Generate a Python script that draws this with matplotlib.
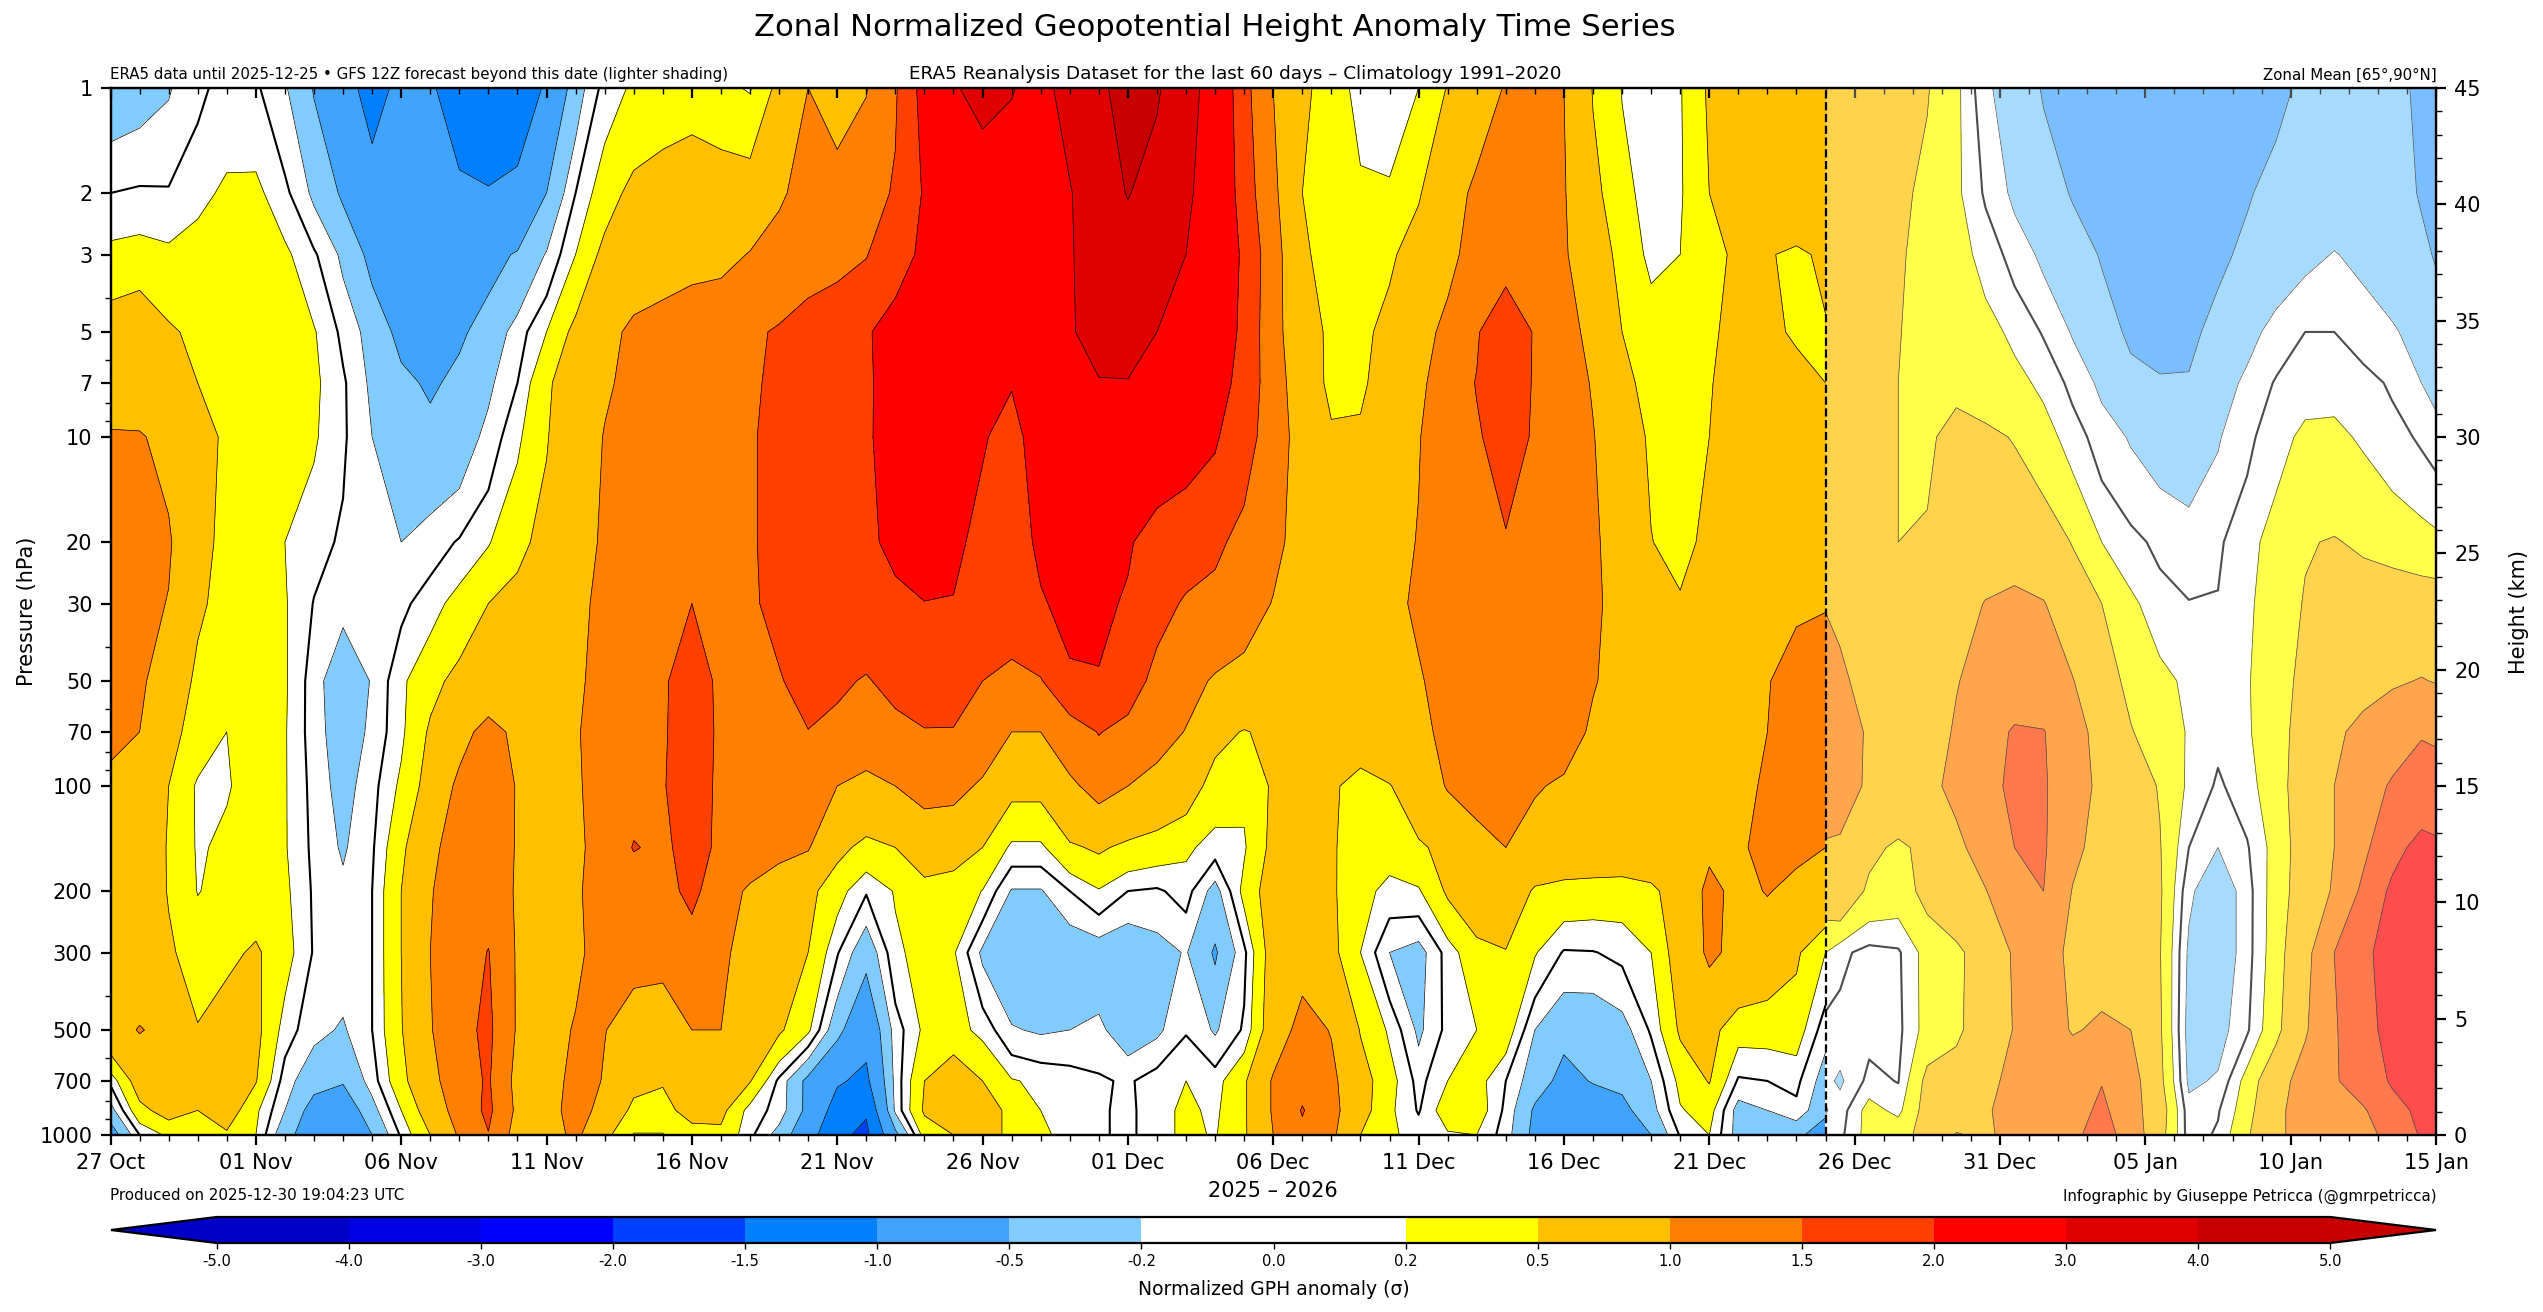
import numpy as np
import matplotlib
matplotlib.use("Agg")
import matplotlib.pyplot as plt
from matplotlib.colors import ListedColormap, BoundaryNorm
from matplotlib.ticker import NullFormatter, FixedLocator

pressure = [1, 2, 3, 5, 7, 10, 20, 30, 50, 70, 100, 150, 200, 300, 500, 700, 850, 1000]
p_ticks = [1, 2, 3, 5, 7, 10, 20, 30, 50, 70, 100, 200, 300, 500, 700, 1000]
x_labels = ["27 Oct", "01 Nov", "06 Nov", "11 Nov", "16 Nov", "21 Nov", "26 Nov", "01 Dec", "06 Dec",
            "11 Dec", "16 Dec", "21 Dec", "26 Dec", "31 Dec", "05 Jan", "10 Jan", "15 Jan"]
reanalysis_days = list(range(60))
forecast_days = [59, 59.5, 60.5, 61.5, 62.5, 63.5, 64.5, 65.5, 66.5, 67.5, 68.5, 69.5, 70.5, 71.5, 72.5, 73.5,
                 74.5, 75.5, 76.5, 77.5, 78.5, 79.5, 80]
bounds = [-5, -4, -3, -2, -1.5, -1, -.5, -.2, 0, .2, .5, 1, 1.5, 2, 3, 4, 5]
colors = ["#0000c8", "#0000e0", "#0000ff", "#0040ff", "#0080ff", "#40a4ff", "#80ccff", "#ffffff", "#ffffff",
          "#ffff00", "#ffc000", "#ff8000", "#ff4000", "#ff0000", "#e00000", "#c80000"]

# each row: 60 reanalysis values, then 23 forecast values
p1 = [-.35,-.3,-.22,-.05,.08,.03,-.17,-.52,-.88,-1.12, -.92,-.95,-1.2,-1.3,-1.25,-.95,-.33,.08,.24,.3,
      .33,.25,.18,.6,1.0,.8,.98,1.45,2.2,2.93, 3.25,3.03,2.8,3.25,3.85,4.3,4.1,3.4,2.55,1.65,
      1.0,.57,.36,.1,.08,.2,.52,.78,1.03,1.1, 1.0,.48,.19,.1,.18,.55,.7,.75,.75,.75,
      .75,.75,.72,.65,.52,.26,-.15,-.35,-.52,-.7,-.8,-.85,-.85,-.85,-.8,-.7,-.55,-.46,-.38,-.33,-.35,-.6,-.6]
p2 = [0,.03,.02,.14,.24,.26,.05,-.25,-.55,-.85, -.78,-.85,-.92,-.97,-.88,-.5,0,.35,.6,.7,
      .8,.75,.72,.95,1.13,1.2,1.3,1.55,2.05,2.3, 2.45,2.65,2.75,2.95,3.5,4.05,3.6,3.15,2.55,1.75,
      1.1,.5,.42,.25,.23,.47,.78,1.1,1.2,1.15, 1.03,.6,.28,.1,.17,.5,.7,.8,.75,.75,
      .75,.75,.67,.58,.42,.25,-.03,-.25,-.38,-.52,-.65,-.72,-.75,-.72,-.65,-.52,-.43,-.37,-.32,-.33,-.4,-.52,-.55]
p3 = [.27,.3,.25,.3,.4,.4,.25,.03,-.25,-.6, -.65,-.7,-.72,-.6,-.47,-.18,.2,.6,.72,.78,
      .85,.88,1.02,1.15,1.3,1.35,1.48,1.8,2.1,2.3, 2.4,2.55,2.7,2.95,3.3,3.5,3.3,3.0,2.5,1.9,
      1.2,.55,.38,.3,.45,.65,.9,1.15,1.25,1.15, 1.05,.7,.4,.13,.2,.42,.55,.52,.45,.55,
      .58,.58,.6,.53,.42,.3,.12,-.08,-.25,-.38,-.52,-.62,-.65,-.62,-.55,-.45,-.35,-.26,-.19,-.25,-.35,-.45,-.52]
p5 = [.7,.8,.55,.42,.4,.38,.3,.22,-.05,-.3, -.6,-.75,-.55,-.38,-.1,.2,.6,.85,1.1,1.2,
      1.3,1.35,1.42,1.55,1.7,1.85,1.95,2.2,2.4,2.6, 2.7,2.75,2.85,2.95,3.2,3.3,3.0,2.6,2.3,1.9,
      1.15,.7,.42,.42,.6,.85,1.1,1.45,1.95,1.45, 1.2,.85,.5,.35,.3,.45,.6,.55,.47,.48,
      .6,.6,.6,.51,.42,.35,.28,.15,-.02,-.22,-.38,-.55,-.58,-.56,-.42,-.28,-.12,0,0,-.1,-.17,-.3,-.38]
p7 = [.75,.8,.65,.5,.42,.4,.35,.25,.03,-.25, -.42,-.55,-.42,-.25,0,.45,.7,.95,1.1,1.2,
      1.3,1.35,1.43,1.6,1.75,1.85,1.95,2.15,2.4,2.55, 2.4,2.03,2.4,2.7,2.97,2.97,2.7,2.45,2.25,1.8,
      1.25,.7,.43,.46,.62,.9,1.25,1.52,1.85,1.45, 1.2,.97,.6,.38,.35,.47,.7,.65,.58,.5,
      .6,.6,.58,.5,.42,.38,.33,.27,.15,-.06,-.25,-.42,-.48,-.48,-.32,-.15,.02,.11,.13,.07,-.03,-.2,-.3]
p10 = [1.05,1.03,.9,.62,.45,.4,.35,.23,.03,-.2, -.32,-.4,-.35,-.13,.15,.48,.75,1.02,1.1,1.2,
       1.3,1.35,1.45,1.65,1.8,1.9,1.97,2.1,2.3,2.3, 2.05,1.8,2.3,2.4,2.4,2.35,2.3,2.2,2.05,1.7,
       1.25,.8,.54,.535,.7,.98,1.25,1.45,1.7,1.45, 1.2,1.02,.7,.45,.38,.5,.7,.75,.75,.75,
       .72,.72,.6,.5,.42,.67,.57,.48,.3,.1,-.1,-.22,-.3,-.3,-.22,-.05,.12,.25,.25,.17,.07,-.03,-.09]
p20 = [1.25,1.3,1.05,.6,.42,.35,.2,.07,-.03,-.1, -.2,-.1,.02,.18,.42,.6,.85,1.05,1.1,1.15,
       1.25,1.35,1.45,1.65,1.8,1.9,1.96,2.05,2.2,2.15, 1.8,1.75,2.1,2.3,2.25,2.05,1.8,1.7,1.6,1.35,
       1.1,.85,.75,.7,.85,1.02,1.1,1.2,1.46,1.25, 1.2,1.05,.85,.51,.38,.6,.75,.8,.85,.85,
       .85,.85,.65,.5,.55,.65,.75,.8,.72,.48,.2,.06,-.05,-.13,-.03,.12,.3,.48,.52,.45,.37,.3,.26]
p30 = [1.2,1.15,.98,.55,.4,.33,.22,-.01,-.13,-.08, -.05,.1,.3,.5,.6,.75,.95,1.05,1.12,1.25,
       1.5,1.4,1.45,1.6,1.75,1.85,1.9,1.95,1.99,1.97, 1.75,1.8,1.95,2.15,2.1,1.95,1.65,1.45,1.35,1.2,
       .98,.85,.8,.85,.95,1.03,1.1,1.2,1.3,1.25, 1.2,1.05,.9,.8,.54,.75,.8,.85,.95,.98,
       .99,.95,.8,.7,.65,.8,1.02,1.1,1.02,.75,.5,.25,.08,.01,.01,.15,.35,.52,.65,.68,.72,.7,.7]
p50 = [1.25,1.08,.75,.43,.38,.32,.23,-.1,-.4,-.18, .15,.4,.6,.7,.8,.85,.95,1.1,1.25,1.45,
       1.7,1.42,1.4,1.47,1.65,1.6,1.45,1.7,1.8,1.75, 1.5,1.35,1.47,1.92,1.97,1.75,1.35,1.15,.95,.85,
       .8,.7,.65,.7,.85,.98,1.08,1.15,1.2,1.2, 1.15,1.02,.9,.8,.75,.8,.9,.98,1.15,1.2,
       1.1,1.05,.9,.75,.72,.98,1.15,1.25,1.2,1.02,.65,.42,.27,.15,.1,.18,.35,.6,.72,.82,.95,1.02,.98]
p70 = [1.15,1.0,.6,.38,.2,.28,.22,-.1,-.35,-.15, .15,.55,.85,1.15,.9,.95,.98,1.1,1.25,1.45,
       1.75,1.42,1.35,1.4,1.49,1.35,1.25,1.3,1.47,1.47, 1.3,1.0,1.0,1.25,1.52,1.35,1.2,.98,.6,.48,
       .58,.65,.65,.7,.85,.95,1.05,1.15,1.2,1.2, 1.15,.95,.85,.75,.75,.8,.9,1.0,1.2,1.3,
       1.15,1.2,.95,.8,.78,1.05,1.3,1.55,1.52,1.2,.82,.52,.33,.18,.05,.17,.37,.65,.9,1.15,1.3,1.47,1.45]
p100 = [.85,.8,.5,.16,.18,.3,.22,-.07,-.3,-.07, .25,.65,1.1,1.2,.98,.9,.97,1.1,1.3,1.47,
        1.75,1.4,1.3,1.25,1.15,1.0,.88,1.0,1.17,1.15, .93,.6,.6,.92,1.15,1.0,.82,.68,.37,.25,
        .55,.72,.55,.38,.48,.75,1.03,1.15,1.2,1.03, .95,.9,.8,.75,.75,.8,.9,1.05,1.3,1.3,
        1.15,1.15,.95,.85,.9,1.1,1.35,1.6,1.55,1.2,.9,.65,.48,.15,-.03,.1,.38,.68,1.0,1.3,1.55,1.7,1.65]
p150 = [.85,.7,.48,.17,.25,.3,.22,-.05,-.23,-.03, .42,.9,1.2,1.25,.97,.9,.95,1.1,1.53,1.4,
        1.7,1.4,1.2,1.1,1.03,.6,.4,.5,.65,.6, .5,.15,.15,.45,.55,.42,.35,.25,.1,.17,
        .6,.8,.55,.29,.31,.45,.6,.85,1.0,.85, .8,.8,.8,.8,.8,.93,.95,1.1,1.08,1.0,
        .97,.95,.6,.43,.6,.9,1.2,1.5,1.55,1.1,.85,.65,.52,0,-.2,-.02,.3,.7,1.0,1.4,1.85,2.15,2.1]
p200 = [.85,.75,.48,.19,.28,.32,.25,-.03,-.15,0, .5,.97,1.25,1.28,.95,.9,.97,1.1,1.2,1.3,
        1.65,1.15,.95,.8,.6,.3,.02,.22,.42,.4, .19,-.22,-.22,0,.18,0,-.03,.08,-.3,.28,
        .7,.85,.55,.28,.13,.17,.55,.75,.8,.45, .38,.35,.33,.42,.7,1.1,.9,1.02,.9,.85,
        .72,.85,.42,.35,.6,.8,.98,1.35,1.5,.98,.8,.7,.55,-.15,-.4,-.08,.33,.7,1.05,1.6,2.1,2.4,2.4]
p300 = [.85,.75,.55,.35,.42,.55,.3,-.02,-.08,0, .5,1.0,1.2,1.52,.95,.9,.93,1.15,1.1,1.05,
        1.2,1.05,.9,.7,.5,.02,-.4,.15,.3,.23, -.25,-.4,-.42,-.4,-.35,-.42,-.3,-.18,-.54,-.05,
        .7,.85,.6,.2,-.2,-.3,.08,.4,.48,.22, -.02,-.01,.05,.2,.7,1.07,.9,.75,.55,.2,
        .2,.05,-.07,-.03,.3,.42,.7,1.05,1.1,.95,.85,.7,.52,-.25,-.4,-.08,.35,.85,1.5,1.9,2.2,2.4,2.35]
p500 = [.85,1.02,.9,.52,.7,.6,.1,-.13,-.23,0, .48,.97,1.35,1.6,.95,.85,1.03,1.01,.85,.9,
        1.0,1.0,.8,.55,.25,-.4,-.85,-.1,.25,.3, .13,-.18,-.23,-.2,-.15,-.35,-.25,-.02,-.23,.03,
        .75,1.15,.98,.48,.16,-.25,.06,.2,.35,-.2, -.42,-.42,-.3,.03,.55,.62,.3,.3,.33,-.12,
        -.08,-.07,-.07,-.05,.3,.42,.75,1.02,1.2,.97,1.06,1.0,.55,-.3,-.3,-.03,.4,.95,1.45,1.85,2.15,2.3,2.3]
p700 = [.05,.7,.85,.9,.8,.52,-.1,-.38,-.47,-.1, .4,.85,1.3,1.55,.85,.7,1.2,.97,.6,.52,
        .85,.7,.52,-.05,-.6,-.95,-1.1,-.13,.5,.75, .5,.22,.15,.1,.03,-.03,.1,.2,.1,.45,
        1.05,1.35,1.1,.65,.3,-.07,.2,.3,0,-.35, -.6,-.48,-.42,-.2,.27,.52,-.03,0,.05,-.32,
        -.14,-.24,.06,-.01,.6,.7,.9,1.1,1.2,1.3,1.48,1.2,.6,-.25,-.17,.3,.8,1.2,1.45,1.75,2.05,2.15,2.1]
p850 = [-.3,.4,.65,.5,.7,.25,-.2,-.65,-.75,-.3, .2,.7,1.2,1.6,.9,.75,1.25,.8,.42,.42,
        .6,.6,.1,-.07,-.6,-1.2,-1.45,-.15,.55,.75, .7,.4,.2,.12,.03,-.05,.12,.25,.15,.45,
        1.05,1.53,1.15,.65,.25,-.02,.35,.35,-.05,-.55, -.75,-.7,-.6,-.3,.18,.3,-.3,-.2,-.05,-.42,
        -.22,-.1,.3,.13,.65,.85,.97,1.1,1.2,1.3,1.6,1.2,.7,-.12,-.02,.35,.95,1.1,1.25,1.45,1.85,2.1,2.05]
p1000 = [-.7,0,.25,.3,.45,.2,-.4,-.7,-.75,-.5, .03,.5,1.05,1.48,.8,.8,1.1,.6,.18,.18,
         .4,.42,.05,-.3,-.8,-1.4,-1.6,-.6,.3,.5, .6,.45,.25,.12,.03,-.05,.12,.25,.18,.45,
         1.0,1.4,1.1,.5,.25,.1,.17,.2,-.1,-.6, -.85,-.8,-.7,-.5,.02,.2,-.3,-.35,-.42,-.7,
         -.1,-.05,.3,.4,.6,1.02,.95,1.1,1.2,1.4,1.7,1.3,.65,-.1,.03,.45,.95,1.1,1.2,1.35,1.65,2.05,2.1]

W, H = 2543, 1312
fig = plt.figure(figsize=(W / 200, H / 200), dpi=200)
ax = fig.add_axes([110.5 / W, 1 - 1135 / H, (2436 - 110.5) / W, (1135 - 88) / H])

z = np.array([p1, p2, p3, p5, p7, p10, p20, p30, p50, p70, p100, p150, p200, p300, p500, p700, p850, p1000])
n_re = len(reanalysis_days)
cmap = ListedColormap(colors)
cmap.set_under("#0000c8")
cmap.set_over("#c80000")
norm = BoundaryNorm(bounds, cmap.N)

cf = None
for xs, zs in ((reanalysis_days, z[:, :n_re]), (forecast_days, z[:, n_re:])):
    c = ax.contourf(xs, pressure, zs, levels=bounds, cmap=cmap, norm=norm, extend="both", zorder=1)
    cf = cf or c
    ax.contour(xs, pressure, zs, levels=bounds, colors="k", linewidths=0.25,
               negative_linestyles="solid", zorder=2)
    ax.contour(xs, pressure, zs, levels=[0], colors="k", linewidths=0.75, zorder=2)
ax.axvspan(59, 80, facecolor="white", edgecolor="none", alpha=0.3, zorder=3)
ax.axvline(59, color="k", ls="--", lw=0.8, zorder=4)

ax.set_yscale("log")
ax.set_ylim(1000, 1)
ax.set_xlim(0, 80)
ax.yaxis.set_major_locator(FixedLocator(p_ticks))
ax.set_yticklabels([str(p) for p in p_ticks])
ax.yaxis.set_minor_locator(FixedLocator([4, 6, 8, 9, 40, 60, 80, 90, 400, 600, 800, 900]))
ax.yaxis.set_minor_formatter(NullFormatter())
ax.set_xticks(np.arange(0, 81, 5))
ax.set_xticklabels(x_labels)
ax.set_xticks(np.arange(0, 81, 1), minor=True)
ax.tick_params(axis="both", which="major", labelsize=7.5, length=3.5, width=0.8, pad=3)
ax.tick_params(axis="both", which="minor", length=2, width=0.5)
ax.tick_params(axis="x", which="both", top=True)
ax.set_ylabel("Pressure (hPa)", fontsize=7.5)
ax.yaxis.set_label_coords(-0.0316, 0.5)
for t in ax.xaxis.get_ticklines(minor=False)[1::2]:
    t.set_marker(3)
for t in ax.xaxis.get_ticklines(minor=True)[1::2]:
    t.set_marker(3)

ax2 = ax.twinx()
ax2.set_ylim(0, 45)
ax2.set_yticks(np.arange(0, 46, 5))
ax2.set_yticks(np.arange(0, 46, 1), minor=True)
ax2.tick_params(axis="y", which="major", labelsize=7.5, length=3.5, width=0.8, pad=3)
ax2.tick_params(axis="y", which="minor", length=2, width=0.5)
ax2.set_ylabel("Height (km)", fontsize=7.5)
ax2.yaxis.set_label_coords(1.0316, 0.5)

def label(xp, yp, s, size, ha="center"):
    fig.text(xp / W, 1 - yp / H, s, fontsize=size, ha=ha, va="center")

label(1215, 28, "Zonal Normalized Geopotential Height Anomaly Time Series", 11.05)
label(1235, 74, "ERA5 Reanalysis Dataset for the last 60 days \u2013 Climatology 1991\u20132020", 6.6)
label(110, 75, "ERA5 data until 2025-12-25 \u2022 GFS 12Z forecast beyond this date (lighter shading)", 5.4, "left")
label(2437, 75, "Zonal Mean [65\u00b0,90\u00b0N]", 5.4, "right")
label(110, 1196, "Produced on 2025-12-30 19:04:23 UTC", 5.45, "left")
label(2437, 1196, "Infographic by Giuseppe Petricca (@gmrpetricca)", 5.45, "right")
label(1273, 1191, "2025 \u2013 2026", 7.5)

cax = fig.add_axes([111 / W, 1 - 1243 / H, (2436 - 111) / W, 26 / H])
cb = fig.colorbar(cf, cax=cax, orientation="horizontal", extend="both", extendfrac=0.05,
                  spacing="uniform", ticks=bounds, drawedges=False)
cb.ax.set_xticklabels([f"{b:.1f}" for b in bounds])
cb.ax.tick_params(labelsize=5.3, length=2, width=0.5, pad=2)
cb.outline.set_linewidth(0.8)
cb.set_label("Normalized GPH anomaly (\u03c3)", fontsize=6.75, labelpad=4)

fig.savefig("out.png", dpi=200)
